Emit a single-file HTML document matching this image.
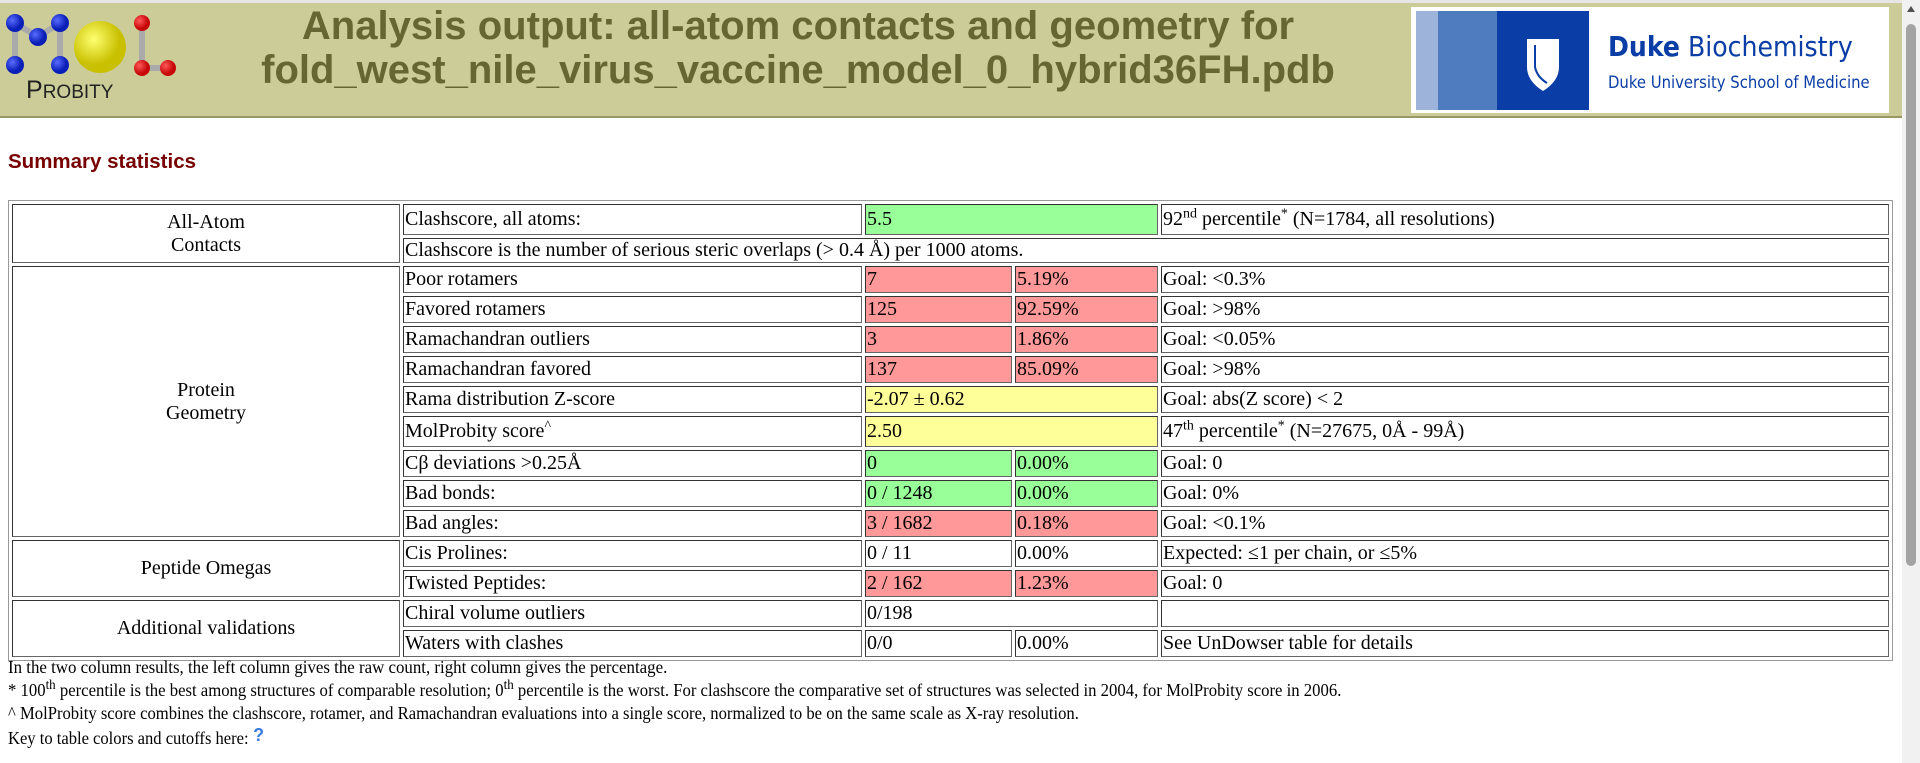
<!DOCTYPE html>
<html><head><meta charset="utf-8">
<style>
html,body{margin:0;padding:0;width:1920px;height:763px;overflow:hidden;background:#fff;}
#header{position:absolute;left:0;top:0;width:1902px;height:118px;background:#cccc99;border-top:3px solid #e6e6e6;box-sizing:border-box;border-bottom:2px solid #999966;}
.tl{position:absolute;left:798px;font:bold 40px "Liberation Sans Narrow","Liberation Sans",sans-serif;color:#666633;white-space:nowrap;transform-origin:center;}
#h2{position:absolute;left:8px;top:150px;font:bold 20.5px "Liberation Sans",sans-serif;color:#770000;}
table{position:absolute;left:8px;top:200px;border-collapse:separate;border-spacing:3px;border:1px solid #999;table-layout:fixed;width:1885px;font:20px "Liberation Serif",serif;color:#000;}
td{border:1px solid #333;border-right-color:#666;border-bottom-color:#666;padding:0 1px;height:25px;vertical-align:middle;white-space:nowrap;overflow:hidden;line-height:23px;}
td.g{text-align:center;}
.r{background:#ff9999}.gr{background:#99ff99}.y{background:#ffff99}
sup{font-size:14px;line-height:0;}
#foot{position:absolute;left:8px;top:656px;font:18px "Liberation Serif",serif;line-height:23px;}
#foot div{height:23px;white-space:nowrap;}
#foot span.f{display:inline-block;transform-origin:left center;}
</style></head><body>
<div id="header">
  <svg style="position:absolute;left:0;top:-3px" width="200" height="120">
    <defs>
      <radialGradient id="b" cx="35%" cy="35%"><stop offset="0" stop-color="#5a6cff"/><stop offset="1" stop-color="#0a1fb8"/></radialGradient>
      <radialGradient id="rd" cx="35%" cy="35%"><stop offset="0" stop-color="#ff5a5a"/><stop offset="1" stop-color="#c80808"/></radialGradient>
      <radialGradient id="yl" cx="38%" cy="35%"><stop offset="0" stop-color="#ffff70"/><stop offset="1" stop-color="#c8c000"/></radialGradient>
    </defs>
    <g stroke="#aaa" stroke-width="6">
      <line x1="15" y1="23" x2="15" y2="65"/><line x1="60" y1="23" x2="60" y2="65"/>
      <line x1="15" y1="23" x2="38" y2="37"/><line x1="60" y1="23" x2="38" y2="37"/>
      <line x1="142" y1="23" x2="142" y2="68"/><line x1="142" y1="68" x2="168" y2="68"/>
    </g>
    <circle cx="15" cy="23" r="9" fill="url(#b)"/><circle cx="60" cy="23" r="9" fill="url(#b)"/>
    <circle cx="38" cy="37" r="9" fill="url(#b)"/><circle cx="15" cy="65" r="9" fill="url(#b)"/>
    <circle cx="60" cy="65" r="9" fill="url(#b)"/>
    <circle cx="100" cy="47" r="26" fill="url(#yl)"/>
    <circle cx="142" cy="23" r="8" fill="url(#rd)"/><circle cx="142" cy="68" r="8" fill="url(#rd)"/><circle cx="168" cy="68" r="8" fill="url(#rd)"/>
    <text x="26" y="98" font-family="Liberation Sans,sans-serif" font-size="25" fill="#222">P<tspan font-size="19">ROBITY</tspan></text>
  </svg>
  <div class="tl" id="t1" style="top:1px">Analysis output: all-atom contacts and geometry for</div>
  <div class="tl" id="t2" style="top:45px">fold_west_nile_virus_vaccine_model_0_hybrid36FH.pdb</div>
  <div style="position:absolute;left:1411px;top:4px;width:478px;height:106px;background:#fff;">
    <div style="position:absolute;left:5px;top:4px;width:22px;height:99px;background:#9db3d9"></div>
    <div style="position:absolute;left:27px;top:4px;width:59px;height:99px;background:#4f7bbf"></div>
    <div style="position:absolute;left:86px;top:4px;width:92px;height:99px;background:#0a3ea6"></div>
    <svg style="position:absolute;left:114px;top:30px" width="36" height="56"><path d="M2 2 H34 V30 Q34 44 18 54 Q2 44 2 30 Z" fill="#fff"/><path d="M10 8 V30 Q12 40 22 46" stroke="#0a3ea6" stroke-width="2" fill="none"/></svg>
    <div style="position:absolute;left:197px;top:23px;font:28px 'DejaVu Sans Condensed','Liberation Sans',sans-serif;color:#0a3ea6;white-space:nowrap"><b>Duke</b> Biochemistry</div>
    <div style="position:absolute;left:197px;top:66px;font:16.5px 'DejaVu Sans Condensed','Liberation Sans',sans-serif;color:#0a3ea6;white-space:nowrap">Duke University School of Medicine</div>
  </div>
</div>
<div style="position:absolute;left:1902px;top:0;width:18px;height:763px;background:#f1f1f1">
  <div style="position:absolute;left:5px;top:6px;width:0;height:0;border-left:4px solid transparent;border-right:4px solid transparent;border-bottom:6px solid #505050"></div>
  <div style="position:absolute;left:4px;top:24px;width:10px;height:542px;background:#a3a3a3;border-radius:5px"></div>
</div>
<div id="h2">Summary statistics</div>
<table>
<colgroup><col style="width:388px"><col style="width:459px"><col style="width:147px"><col style="width:143px"><col style="width:728px"></colgroup>
<tr><td class="g" rowspan="2">All-Atom<br>Contacts</td><td style="height:29px">Clashscore, all atoms:</td><td colspan="2" class="gr">5.5</td><td>92<sup>nd</sup> percentile<sup>*</sup> (N=1784, all resolutions)</td></tr>
<tr><td colspan="4" style="height:22px">Clashscore is the number of serious steric overlaps (&gt; 0.4 Å) per 1000 atoms.</td></tr>
<tr><td class="g" rowspan="9">Protein<br>Geometry</td><td>Poor rotamers</td><td class="r">7</td><td class="r">5.19%</td><td>Goal: &lt;0.3%</td></tr>
<tr><td>Favored rotamers</td><td class="r">125</td><td class="r">92.59%</td><td>Goal: &gt;98%</td></tr>
<tr><td>Ramachandran outliers</td><td class="r">3</td><td class="r">1.86%</td><td>Goal: &lt;0.05%</td></tr>
<tr><td>Ramachandran favored</td><td class="r">137</td><td class="r">85.09%</td><td>Goal: &gt;98%</td></tr>
<tr><td>Rama distribution Z-score</td><td colspan="2" class="y">-2.07 ± 0.62</td><td>Goal: abs(Z score) &lt; 2</td></tr>
<tr><td style="height:29px">MolProbity score<sup>^</sup></td><td colspan="2" class="y">2.50</td><td>47<sup>th</sup> percentile<sup>*</sup> (N=27675, 0Å - 99Å)</td></tr>
<tr><td>Cβ deviations &gt;0.25Å</td><td class="gr">0</td><td class="gr">0.00%</td><td>Goal: 0</td></tr>
<tr><td>Bad bonds:</td><td class="gr">0 / 1248</td><td class="gr">0.00%</td><td>Goal: 0%</td></tr>
<tr><td>Bad angles:</td><td class="r">3 / 1682</td><td class="r">0.18%</td><td>Goal: &lt;0.1%</td></tr>
<tr><td class="g" rowspan="2">Peptide Omegas</td><td>Cis Prolines:</td><td>0 / 11</td><td>0.00%</td><td>Expected: ≤1 per chain, or ≤5%</td></tr>
<tr><td>Twisted Peptides:</td><td class="r">2 / 162</td><td class="r">1.23%</td><td>Goal: 0</td></tr>
<tr><td class="g" rowspan="2">Additional validations</td><td style="height:23px">Chiral volume outliers</td><td colspan="2">0/198</td><td></td></tr>
<tr><td style="height:23px">Waters with clashes</td><td>0/0</td><td>0.00%</td><td>See UnDowser table for details</td></tr>
</table>
<div id="foot">
<div><span class="f" data-w="659">In the two column results, the left column gives the raw count, right column gives the percentage.</span></div>
<div><span class="f" data-w="1333">* 100<sup>th</sup> percentile is the best among structures of comparable resolution; 0<sup>th</sup> percentile is the worst. For clashscore the comparative set of structures was selected in 2004, for MolProbity score in 2006.</span></div>
<div><span class="f" data-w="1071">^ MolProbity score combines the clashscore, rotamer, and Ramachandran evaluations into a single score, normalized to be on the same scale as X-ray resolution.</span></div>
<div><span class="f" data-w="241">Key to table colors and cutoffs here:</span> <span style="color:#3a7be0;font:bold 18px 'Liberation Sans',sans-serif;vertical-align:3px">?</span></div>
</div>
<script>
[['t1',992],['t2',1074]].forEach(function(p){var e=document.getElementById(p[0]);var w=e.offsetWidth;e.style.transform='translateX(-50%) scaleX('+(p[1]/w)+')';});
document.querySelectorAll('#foot span.f').forEach(function(s){var w=s.offsetWidth;var t=+s.getAttribute('data-w');s.style.transform='scaleX('+(t/w)+')';s.style.marginRight=(t-w)+'px';});
</script>
</body></html>
